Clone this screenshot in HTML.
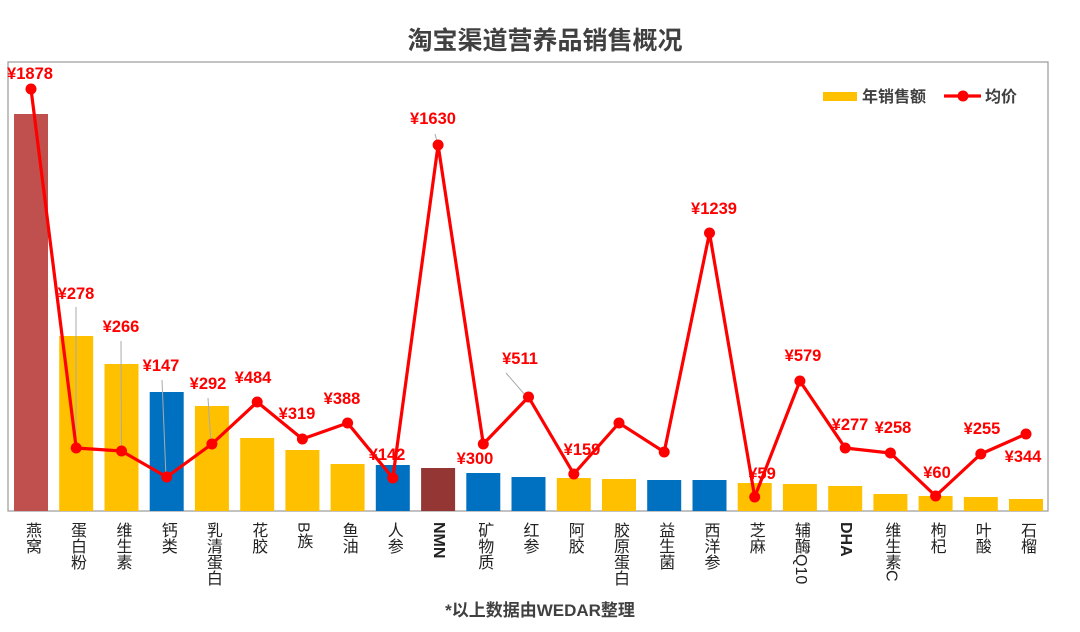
<!DOCTYPE html>
<html><head><meta charset="utf-8"><style>
body{margin:0;background:#fff;width:1080px;height:632px;overflow:hidden;position:relative;font-family:"Liberation Sans","Noto Sans CJK SC",sans-serif}
.v{position:absolute;top:522px;width:20px;margin-left:-10px;writing-mode:vertical-rl;text-orientation:mixed;font-size:16px;line-height:20px;color:#222;letter-spacing:0px}
</style></head><body>
<svg width="1080" height="632" style="position:absolute;left:0;top:0" font-family="Liberation Sans, Noto Sans CJK SC, sans-serif">
<text x="545" y="49" text-anchor="middle" font-size="25" font-weight="bold" fill="#404040">淘宝渠道营养品销售概况</text>
<rect x="8" y="62" width="1040" height="449" fill="none" stroke="#999" stroke-width="1.2"/>
<g>
<rect x="14" y="114" width="34" height="397" fill="#c0504d"/>
<rect x="59.2" y="336" width="34" height="175" fill="#ffc000"/>
<rect x="104.5" y="364" width="34" height="147" fill="#ffc000"/>
<rect x="149.7" y="392" width="34" height="119" fill="#0070c0"/>
<rect x="194.9" y="406" width="34" height="105" fill="#ffc000"/>
<rect x="240.2" y="438" width="34" height="73" fill="#ffc000"/>
<rect x="285.4" y="450" width="34" height="61" fill="#ffc000"/>
<rect x="330.6" y="464" width="34" height="47" fill="#ffc000"/>
<rect x="375.8" y="465" width="34" height="46" fill="#0070c0"/>
<rect x="421.1" y="468" width="34" height="43" fill="#943634"/>
<rect x="466.3" y="473" width="34" height="38" fill="#0070c0"/>
<rect x="511.5" y="477" width="34" height="34" fill="#0070c0"/>
<rect x="556.8" y="478" width="34" height="33" fill="#ffc000"/>
<rect x="602" y="479" width="34" height="32" fill="#ffc000"/>
<rect x="647.2" y="480" width="34" height="31" fill="#0070c0"/>
<rect x="692.5" y="480" width="34" height="31" fill="#0070c0"/>
<rect x="737.7" y="483" width="34" height="28" fill="#ffc000"/>
<rect x="782.9" y="484" width="34" height="27" fill="#ffc000"/>
<rect x="828.2" y="486" width="34" height="25" fill="#ffc000"/>
<rect x="873.4" y="494" width="34" height="17" fill="#ffc000"/>
<rect x="918.6" y="496" width="34" height="15" fill="#ffc000"/>
<rect x="963.8" y="497" width="34" height="14" fill="#ffc000"/>
<rect x="1009" y="499" width="34" height="12" fill="#ffc000"/>
</g>
<g stroke="#aaa" stroke-width="1" fill="none">
<line x1="76" y1="307" x2="76" y2="448"/>
<line x1="121" y1="341" x2="121.5" y2="451"/>
<line x1="162" y1="380" x2="166" y2="477"/>
<line x1="208" y1="398" x2="211" y2="444"/>
<line x1="435" y1="134" x2="438" y2="145"/>
<line x1="506" y1="373" x2="526" y2="396"/>
</g>
<polyline fill="none" stroke="#ff0000" stroke-width="3.2" stroke-linejoin="round" points="31,89 76.2,448 121.5,451 166.7,477 211.9,444 257.2,402 302.4,439 347.6,423 392.8,478 438.1,145 483.3,444 528.5,397 573.8,474 619,423 664.2,452 709.5,233 754.7,497 799.9,381 845.2,448 890.4,453 935.6,496 980.8,454 1026,434"/>
<g fill="#ff0000">
<circle cx="31" cy="89" r="5.5"/><circle cx="76.2" cy="448" r="5.5"/><circle cx="121.5" cy="451" r="5.5"/><circle cx="166.7" cy="477" r="5.5"/><circle cx="211.9" cy="444" r="5.5"/><circle cx="257.2" cy="402" r="5.5"/><circle cx="302.4" cy="439" r="5.5"/><circle cx="347.6" cy="423" r="5.5"/><circle cx="392.8" cy="478" r="5.5"/><circle cx="438.1" cy="145" r="5.5"/><circle cx="483.3" cy="444" r="5.5"/><circle cx="528.5" cy="397" r="5.5"/><circle cx="573.8" cy="474" r="5.5"/><circle cx="619" cy="423" r="5.5"/><circle cx="664.2" cy="452" r="5.5"/><circle cx="709.5" cy="233" r="5.5"/><circle cx="754.7" cy="497" r="5.5"/><circle cx="799.9" cy="381" r="5.5"/><circle cx="845.2" cy="448" r="5.5"/><circle cx="890.4" cy="453" r="5.5"/><circle cx="935.6" cy="496" r="5.5"/><circle cx="980.8" cy="454" r="5.5"/><circle cx="1026" cy="434" r="5.5"/>
</g>
<g fill="#ff0000" font-size="16.5" font-weight="bold" text-anchor="middle">
<text x="30" y="79">¥1878</text>
<text x="76" y="299">¥278</text>
<text x="121" y="332">¥266</text>
<text x="161" y="371">¥147</text>
<text x="208" y="389">¥292</text>
<text x="253" y="383">¥484</text>
<text x="297" y="419">¥319</text>
<text x="342" y="404">¥388</text>
<text x="387" y="460">¥142</text>
<text x="433" y="124">¥1630</text>
<text x="475" y="464">¥300</text>
<text x="520" y="364">¥511</text>
<text x="582" y="455">¥159</text>
<text x="714" y="214">¥1239</text>
<text x="762" y="479">¥59</text>
<text x="803" y="361">¥579</text>
<text x="850" y="430">¥277</text>
<text x="893" y="433">¥258</text>
<text x="937" y="478">¥60</text>
<text x="982" y="434">¥255</text>
<text x="1023" y="462">¥344</text>
</g>
<rect x="823" y="92" width="34" height="9" fill="#ffc000"/>
<text x="862" y="102" font-size="16" font-weight="bold" fill="#404040">年销售额</text>
<line x1="944" y1="96" x2="981" y2="96" stroke="#ff0000" stroke-width="3.2"/>
<circle cx="963" cy="96" r="5.5" fill="#ff0000"/>
<text x="985" y="102" font-size="16" font-weight="bold" fill="#404040">均价</text>
<text x="540" y="616" text-anchor="middle" font-size="17" font-weight="bold" fill="#404040">*以上数据由WEDAR整理</text>
</svg>
<div class="v" style="left:31px">燕窝</div>
<div class="v" style="left:76px">蛋白粉</div>
<div class="v" style="left:121.5px">维生素</div>
<div class="v" style="left:166.7px">钙类</div>
<div class="v" style="left:211.9px">乳清蛋白</div>
<div class="v" style="left:257.2px">花胶</div>
<div class="v" style="left:302.4px">B族</div>
<div class="v" style="left:347.6px">鱼油</div>
<div class="v" style="left:392.8px">人参</div>
<div class="v" style="left:438.1px;font-weight:bold">NMN</div>
<div class="v" style="left:483.3px">矿物质</div>
<div class="v" style="left:528.5px">红参</div>
<div class="v" style="left:573.8px">阿胶</div>
<div class="v" style="left:619px">胶原蛋白</div>
<div class="v" style="left:664.2px">益生菌</div>
<div class="v" style="left:709.5px">西洋参</div>
<div class="v" style="left:754.7px">芝麻</div>
<div class="v" style="left:799.9px">辅酶Q10</div>
<div class="v" style="left:845.2px;font-weight:bold">DHA</div>
<div class="v" style="left:890.4px">维生素C</div>
<div class="v" style="left:935.6px">枸杞</div>
<div class="v" style="left:980.8px">叶酸</div>
<div class="v" style="left:1026px">石榴</div>
</body></html>
